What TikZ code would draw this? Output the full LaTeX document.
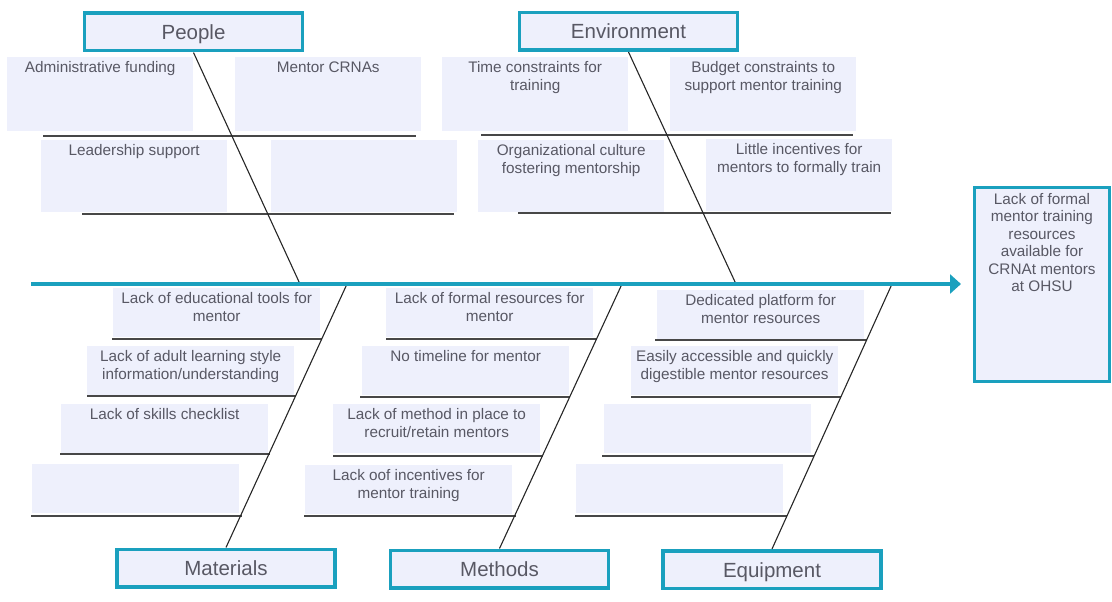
\documentclass[tikz,border=0pt]{standalone}
\usepackage{fontspec}
\setmainfont{Liberation Sans}
\usepackage{xcolor}
\usetikzlibrary{positioning,calc,arrows.meta}

\definecolor{fishteal}{RGB}{26,160,190}
\definecolor{causefill}{RGB}{238,240,252}
\definecolor{causeink}{RGB}{88,88,100}

\begin{document}
\begin{tikzpicture}[x=1pt,y=-1pt,
    category/.style={draw=fishteal, line width=3.5pt, fill=causefill, minimum width=218pt, minimum height=37.5pt, inner sep=0pt, text height=15pt, text depth=0pt, text=causeink, font=\fontsize{20.5}{24}\selectfont},
    causetop/.style={fill=causefill, minimum width=186pt, minimum height=74pt, inner sep=0pt, anchor=north west},
    causebot/.style={fill=causefill, minimum width=207pt, minimum height=49pt, inner sep=0pt, anchor=north west},
    note/.style={anchor=north, inner sep=4.5pt, align=center, text=causeink, font=\fontsize{15.3}{17.5}\selectfont},
    rib/.style={line width=1.5pt, color=black!72},
    bone/.style={line width=1.1pt, color=black!85},
    spine/.style={line width=3.5pt, color=fishteal, -{Triangle[length=11pt,width=19pt]}}]
    \useasboundingbox (0,0) rectangle (1112,602);

    % Effect
    \node[draw=fishteal, line width=3pt, fill=causefill, minimum width=135pt, minimum height=194pt, inner sep=0pt,
          label={[note, inner sep=7.5pt]north:Lack of formal\\mentor training\\resources\\available for\\CRNAt mentors\\at OHSU}] (effect) at (1042,284) {};

    % People causes
    \node[causetop, label={[note]north:Administrative funding}] (admin) at (7,57) {};
    \node[causetop, label={[note]north:Mentor CRNAs}] (crna) at (235,57) {};
    \node[causetop, minimum height=72pt, label={[note]north:Leadership support}] (leader) at (41,140) {};
    \node[causetop, minimum height=72pt] (peopleblank) at (271,140) {};
    \draw[rib] (43,136) -- (416,136);
    \draw[rib] (82,214) -- (454,214);

    % Environment causes
    \node[causetop, label={[note]north:Time constraints for\\training}] (timecon) at (442,57) {};
    \node[causetop, label={[note]north:Budget constraints to\\support mentor training}] (budget) at (670,57) {};
    \node[causetop, minimum height=72pt, label={[note]north:Organizational culture\\fostering mentorship}] (orgcult) at (478,140) {};
    \node[causetop, minimum height=72pt, label={[note]north:Little incentives for\\mentors to formally train}] (incent) at (706,139) {};
    \draw[rib] (481,135) -- (853,135);
    \draw[rib] (518,213) -- (891,213);

    % Materials causes
    \node[causebot, label={[note]north:Lack of educational tools for\\mentor}] (edtools) at (113,288) {};
    \node[causebot, label={[note]north:Lack of adult learning style\\information/understanding}] (adult) at (87,346) {};
    \node[causebot, label={[note]north:Lack of skills checklist}] (skills) at (61,404) {};
    \node[causebot] (matblank) at (32,464) {};
    \draw[rib] (112,339) -- (322,339);
    \draw[rib] (87,396) -- (296,396);
    \draw[rib] (60,454) -- (270,454);
    \draw[rib] (31,516) -- (242,516);

    % Methods causes
    \node[causebot, label={[note]north:Lack of formal resources for\\mentor}] (formres) at (386,288) {};
    \node[causebot, label={[note]north:No timeline for mentor}] (timeline) at (362,346) {};
    \node[causebot, label={[note]north:Lack of method in place to\\recruit/retain mentors}] (recruit) at (333,404) {};
    \node[causebot, label={[note]north:Lack oof incentives for\\mentor training}] (incentm) at (305,465) {};
    \draw[rib] (386,339) -- (597,339);
    \draw[rib] (360,397) -- (570,397);
    \draw[rib] (333,456) -- (543,456);
    \draw[rib] (304,516) -- (516,516);

    % Equipment causes
    \node[causebot, label={[note]north:Dedicated platform for\\mentor resources}] (platform) at (657,290) {};
    \node[causebot, label={[note]north:Easily accessible and quickly\\digestible mentor resources}] (access) at (631,346) {};
    \node[causebot] (eqblank) at (604,404) {};
    \node[causebot] (eqblankb) at (576,464) {};
    \draw[rib] (655,340) -- (867,340);
    \draw[rib] (631,397) -- (841,397);
    \draw[rib] (602,456) -- (814,456);
    \draw[rib] (575,516) -- (787,516);

    % Categories
    \node[category] (people) at (193.5,32) {People};
    \node[category] (environment) at (628.5,31.5) {Environment};
    \node[category] (materials) at (226,568) {Materials};
    \node[category] (methods) at (499.5,569) {Methods};
    \node[category] (equipment) at (772,569.5) {Equipment};

    % Spine and bones
    \coordinate (tail) at (31,284);
    \coordinate (jpeople) at (300,284);
    \coordinate (jenv) at (736,284);
    \coordinate (jmat) at (347,284);
    \coordinate (jmeth) at (622,284);
    \coordinate (jequip) at (892,284);
    \draw[bone] (people.south) -- (jpeople);
    \draw[bone] (environment.south) -- (jenv);
    \draw[bone] (materials.north) -- (jmat);
    \draw[bone] (methods.north) -- (jmeth);
    \draw[bone] (equipment.north) -- (jequip);
    \draw[spine] (tail) -- ([xshift=-12pt]effect.west);
\end{tikzpicture}
\end{document}
